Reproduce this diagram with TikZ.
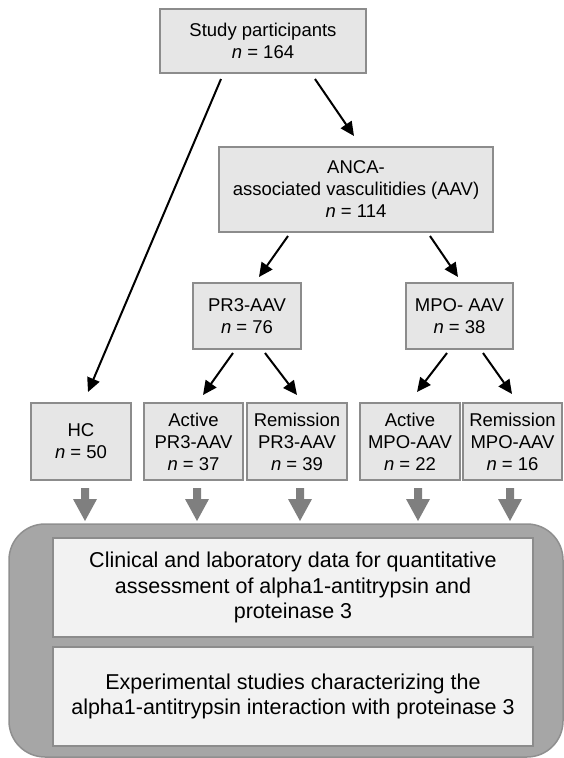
\documentclass[tikz,border=0pt]{standalone}
\usepackage{fontspec}
\setmainfont{Liberation Sans}
\usetikzlibrary{arrows.meta}
\definecolor{boxfill}{HTML}{E6E6E6}
\definecolor{boxline}{HTML}{8C8C8C}
\definecolor{bigfill}{HTML}{A6A6A6}
\definecolor{bigline}{HTML}{8F8F8F}
\definecolor{innerfill}{HTML}{F2F2F2}
\definecolor{arrowgray}{HTML}{7F7F7F}
\newcommand\blockarrow[2]{\fill[arrowgray] ([shift={(#1,7)}]#2.south) ++(-4,0) -- ++(8,0) -- ++(0,11) -- ++(8,0) -- ++(-12,22) -- ++(-12,-22) -- ++(8,0) -- cycle;}
\begin{document}
\begin{tikzpicture}[x=1pt,y=-1pt,
  box/.style={draw=boxline, fill=boxfill, line width=2pt, inner sep=0pt, align=center,
    font=\fontsize{18.5}{22}\selectfont},
  ibox/.style={draw=boxline, fill=innerfill, line width=2pt, inner sep=0pt, align=center,
    minimum width=480pt, minimum height=99pt, font=\fontsize{21.5}{25.5}\selectfont},
  bigbox/.style={draw=bigline, fill=bigfill, line width=1.5pt, rounded corners=36pt,
    minimum width=554pt, minimum height=233pt, inner sep=0pt},
  con/.style={line width=2pt, -{Triangle[length=14pt,width=13pt]}}]
\useasboundingbox (0,0) rectangle (564,758);
% boxes
\node[box, minimum width=206pt, minimum height=64pt] (top) at (263,41) {Study participants\\\textit{n} = 164};
\node[box, minimum width=274pt, minimum height=85pt] (anca) at (356,189.5) {ANCA-\\associated vasculitidies (AAV)\\\textit{n} = 114};
\node[box, minimum width=108pt, minimum height=66pt] (pr3) at (247,316) {PR3-AAV\\\textit{n} = 76};
\node[box, minimum width=107pt, minimum height=66pt] (mpo) at (459.5,316) {MPO- AAV\\\textit{n} = 38};
\node[box, minimum width=100pt, minimum height=77pt] (hc) at (81,441.5) {HC\\\textit{n} = 50};
\node[box, minimum width=99pt, minimum height=77pt] (apr3) at (193.5,441.5) {Active\\PR3-AAV\\\textit{n} = 37};
\node[box, minimum width=100pt, minimum height=77pt] (rpr3) at (297,441.5) {Remission\\PR3-AAV\\\textit{n} = 39};
\node[box, minimum width=100pt, minimum height=77pt] (ampo) at (410,441.5) {Active\\MPO-AAV\\\textit{n} = 22};
\node[box, minimum width=99pt, minimum height=77pt] (rmpo) at (512.5,441.5) {Remission\\MPO-AAV\\\textit{n} = 16};
% bottom block
\node[bigbox] (big) at (286,640.5) {};
\node[ibox] (data) at (293,587.5) {Clinical and laboratory data for quantitative\\assessment of alpha1-antitrypsin and\\proteinase 3};
\node[ibox] (exp) at (293,696.5) {Experimental studies characterizing the\\alpha1-antitrypsin interaction with proteinase 3};
% connectors
\draw[con] ([shift={(-42,5)}]top.south) -- ([shift={(7,-10)}]hc.north);
\draw[con] ([shift={(52,5)}]top.south) -- ([shift={(-2,-10)}]anca.north);
\draw[con] ([shift={(-68,3)}]anca.south) -- ([shift={(12,-5)}]pr3.north);
\draw[con] ([shift={(74,3)}]anca.south) -- ([shift={(-1.5,-5)}]mpo.north);
\draw[con] ([shift={(-14,3)}]pr3.south) -- ([shift={(9.5,-7)}]apr3.north);
\draw[con] ([shift={(18,3)}]pr3.south) -- ([shift={(0,-7)}]rpr3.north);
\draw[con] ([shift={(-12.5,3)}]mpo.south) -- ([shift={(7,-10)}]ampo.north);
\draw[con] ([shift={(23.5,3)}]mpo.south) -- ([shift={(-0.5,-8)}]rmpo.north);
% block arrows
\blockarrow{4}{hc}
\blockarrow{3.5}{apr3}
\blockarrow{3}{rpr3}
\blockarrow{8}{ampo}
\blockarrow{-2.5}{rmpo}
\end{tikzpicture}
\end{document}
